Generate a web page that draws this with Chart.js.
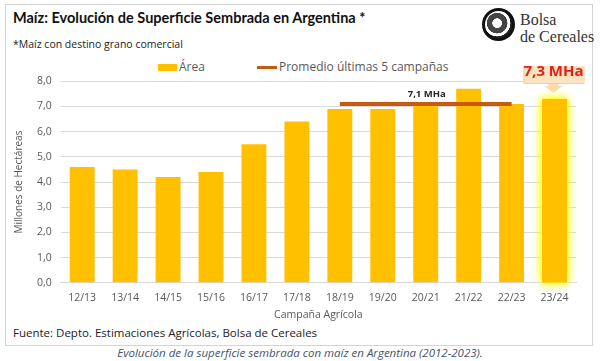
<!DOCTYPE html>
<html>
<head>
<meta charset="utf-8">
<script src="https://cdn.jsdelivr.net/npm/chart.js@4/dist/chart.umd.min.js"></script>
<style>
  body { margin: 0; background: #fff; font-family: "Open Sans", sans-serif; }
  #wrap { position: relative; width: 600px; height: 361px; overflow: hidden; }
  #frame { position: absolute; left: 5px; top: 4px; width: 586px; height: 340px; border: 1px solid #d4d4d4; }
  #title { position: absolute; left: 13px; top: 9px; font-family: Lato, sans-serif; font-size: 14.5px; font-weight: bold; color: #111; white-space: nowrap; }
  #sub { position: absolute; left: 13px; top: 37px; font-size: 10.5px; color: #222; white-space: nowrap; }
  #logo { position: absolute; left: 482px; top: 8px; width: 27px; height: 27px; border-radius: 50%; border: 3px solid #111;
          background: radial-gradient(circle at 45% 45%, #fff 0 22%, #444 24% 48%, #fff 50% 62%, #222 64%); }
  #bolsa { position: absolute; left: 520px; top: 11px; font-family: "Liberation Serif", serif; font-size: 16px; line-height: 17px; color: #333; }
  #legend { position: absolute; top: 58px; left: 0; width: 600px; font-size: 12px; color: #595959; white-space: nowrap; }
  #legend span { position: absolute; }
  #chart { position: absolute; left: 0; top: 66px; }
  #fuente { position: absolute; left: 13px; top: 325px; font-size: 11.5px; color: #222; white-space: nowrap; }
  #caption { position: absolute; left: 0; width: 600px; text-align: center; top: 345px; font-size: 11.5px; font-style: italic; color: #44546a; }
</style>
</head>
<body>
<div id="wrap">
  <div id="frame"></div>
  <div id="title">Maíz: Evolución de Superficie Sembrada en Argentina *</div>
  <div id="sub">*Maíz con destino grano comercial</div>
  <div id="logo"></div>
  <div id="bolsa">Bolsa<br>de Cereales</div>
  <div id="legend">
    <span style="left:158px;top:6px;width:19px;height:7px;background:#FFC000"></span>
    <span style="left:179px;top:0">Área</span>
    <span style="left:257px;top:8px;width:20px;height:3px;background:#C55A11"></span>
    <span style="left:279px;top:0">Promedio últimas 5 campañas</span>
  </div>
  <canvas id="chart" width="600" height="259"></canvas>
  <div id="fuente">Fuente: Depto. Estimaciones Agrícolas, Bolsa de Cereales</div>
  <div id="caption">Evolución de la superficie sembrada con maíz en Argentina (2012-2023).</div>
</div>
<script>
// campañas y superficie sembrada (millones de ha)
const campaigns = ['12/13', '13/14', '14/15', '15/16', '16/17', '17/18', '18/19', '19/20', '20/21', '21/22', '22/23', '23/24'];
const area = [4.6, 4.5, 4.2, 4.4, 5.5, 6.4, 6.9, 6.9, 7.1, 7.7, 7.1, 7.3];
// promedio ultimas 5 campañas (18/19 a 22/23)
const average = [null, null, null, null, null, null, 7.1, 7.1, 7.1, 7.1, 7.1, null];
const yTicks = [0, 1, 2, 3, 4, 5, 6, 7, 8];

const fmt = v => v.toFixed(1).replace('.', ',');

// glow on the last bar, callout and average label
const extras = {
    id: 'extras',
    beforeDatasetDraw(chart, args) {
        if (args.index !== 0) return;
        const bar = chart.getDatasetMeta(0).data[area.length - 1];
        const ctx = chart.ctx;
        ctx.save();
        ctx.shadowColor = '#ffff00';
        ctx.shadowBlur = 10;
        ctx.fillStyle = '#FFC000';
        for (let i = 0; i < 2; i++) {
            ctx.fillRect(bar.x - bar.width / 2, bar.y, bar.width, bar.base - bar.y);
        }
        ctx.restore();
    },
    afterDatasetsDraw(chart) {
        const ctx = chart.ctx;
        const bar = chart.getDatasetMeta(0).data[area.length - 1];
        const x = bar.x - 1;
        const top = bar.y;
        // arrow
        ctx.save();
        ctx.fillStyle = '#f9dcae';
        ctx.beginPath();
        ctx.moveTo(x - 5, top - 16);
        ctx.lineTo(x + 5, top - 16);
        ctx.lineTo(x + 5, top - 13);
        ctx.lineTo(x + 9, top - 13);
        ctx.lineTo(x, top - 6);
        ctx.lineTo(x - 9, top - 13);
        ctx.lineTo(x - 5, top - 13);
        ctx.closePath();
        ctx.fill();
        // box
        ctx.fillStyle = '#fce4c0';
        ctx.strokeStyle = '#f3cf98';
        ctx.fillRect(x - 30, top - 39, 60, 23);
        ctx.strokeRect(x - 30 + 0.5, top - 39 + 0.5, 60, 23);
        ctx.fillStyle = '#e0201b';
        ctx.font = 'bold 15px "Open Sans"';
        ctx.textAlign = 'center';
        ctx.textBaseline = 'middle';
        ctx.fillText(fmt(area[area.length - 1]) + ' MHa', x, top - 27);
        // average label
        const pts = chart.getDatasetMeta(1).data.filter((p, i) => average[i] !== null);
        const mid = (pts[0].x + pts[pts.length - 1].x) / 2;
        ctx.fillStyle = '#262626';
        ctx.font = 'bold 9.5px "Open Sans"';
        ctx.fillText(fmt(average[6]) + ' MHa', mid + 1, pts[0].y - 10);
        ctx.restore();
    }
};

new Chart(document.getElementById('chart'), {
    type: 'bar',
    data: {
        labels: campaigns,
        datasets: [{
            label: 'Área',
            data: area,
            backgroundColor: '#FFC000',
            categoryPercentage: 1,
            barPercentage: 0.58,
            order: 2
        }, {
            type: 'line',
            label: 'Promedio últimas 5 campañas',
            data: average,
            borderColor: '#C55A11',
            borderWidth: 4,
            pointRadius: 0,
            spanGaps: false,
            order: 1
        }]
    },
    options: {
        responsive: false,
        animation: false,
        layout: { padding: { left: 10, right: 24, top: 5, bottom: 4 } },
        plugins: { legend: { display: false }, tooltip: { enabled: false } },
        scales: {
            x: {
                grid: { display: false },
                border: { color: '#d9d9d9' },
                ticks: { color: '#595959', font: { family: 'Open Sans', size: 10.5 }, padding: 1 },
                title: { display: true, text: 'Campaña Agrícola', color: '#595959', font: { family: 'Open Sans', size: 10.5 }, padding: { top: 3, bottom: 0 } }
            },
            y: {
                min: 0,
                max: 8,
                afterBuildTicks: axis => { axis.ticks = yTicks.map(v => ({ value: v })); },
                grid: { color: '#d9d9d9', drawTicks: false },
                border: { display: false },
                ticks: { color: '#595959', font: { family: 'Open Sans', size: 10.5 }, padding: 9, callback: v => fmt(v) },
                title: { display: true, text: 'Millones de Hectáreas', color: '#595959', font: { family: 'Open Sans', size: 10 }, padding: 3 }
            }
        }
    },
    plugins: [extras]
});
</script>
</body>
</html>
